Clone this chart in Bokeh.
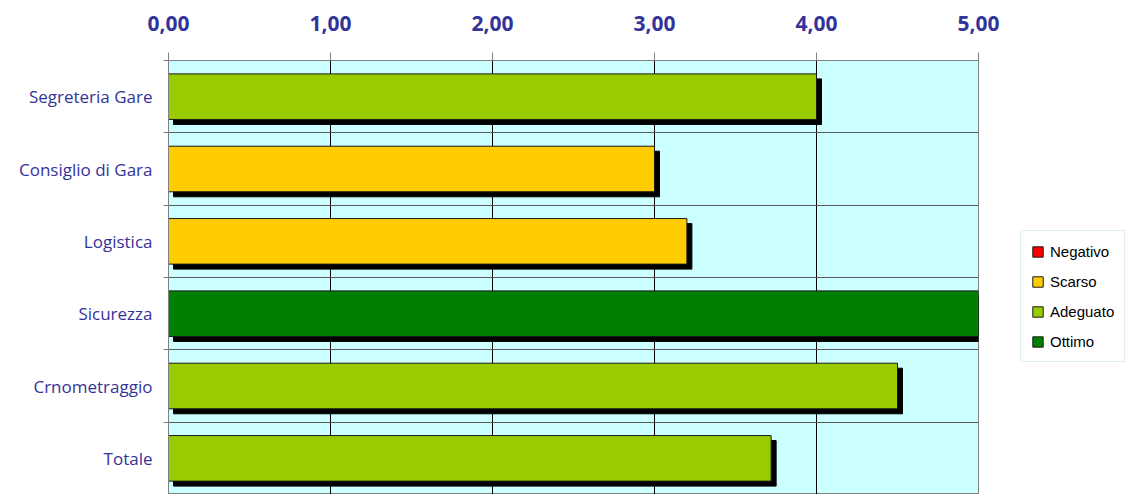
from bokeh.plotting import figure
from bokeh.models import Range1d, FixedTicker, Legend, LegendItem
from bokeh.embed import file_html
from bokeh.resources import INLINE

categories = ["Segreteria Gare", "Consiglio di Gara", "Logistica", "Sicurezza", "Crnometraggio", "Totale"]
values = [4.00, 3.00, 3.20, 5.00, 4.50, 3.72]
ratings = ["Adeguato", "Scarso", "Scarso", "Ottimo", "Adeguato", "Adeguato"]
legend_labels = ["Negativo", "Scarso", "Adeguato", "Ottimo"]
legend_colors = ["#FF0000", "#FFCC00", "#99CC00", "#008000"]
x_ticks = [0, 1, 2, 3, 4, 5]
x_tick_labels = ["0,00", "1,00", "2,00", "3,00", "4,00", "5,00"]

n = len(categories)
ypos = [n - i - 0.5 for i in range(n)]

FRAME_W, FRAME_H = 810, 434
y_start = 0.0
x_end = 5

p = figure(frame_width=FRAME_W, frame_height=FRAME_H, output_backend="svg", toolbar_location=None,
           x_range=Range1d(0, x_end), y_range=Range1d(y_start, n), x_axis_location="above",
           min_border_left=168, min_border_right=157, min_border_top=60, min_border_bottom=0)

p.background_fill_color = "#CCFFFF"
p.border_fill_color = "white"
p.outline_line_color = "#808080"

# shadow offsets (pixels -> data units)
dx = 5 * x_end / FRAME_W
dy = 5 * (n - y_start) / FRAME_H
bar_h = 0.63

p.hbar(y=[y - dy for y in ypos], left=dx, right=[v + dx for v in values], height=bar_h,
       fill_color="black", line_color="black")

# one renderer per rating class (also used by the legend)
items = []
for lab, col in zip(legend_labels, legend_colors):
    ys = [y for y, r in zip(ypos, ratings) if r == lab]
    vs = [v for v, r in zip(values, ratings) if r == lab]
    if not ys:  # class with no bars: placeholder that draws nothing
        ys, vs = [float("nan")], [float("nan")]
    rr = p.hbar(y=ys, left=0, right=vs, height=bar_h, fill_color=col,
                line_color="#1a1a1a", line_width=1)
    items.append(LegendItem(label=lab, renderers=[rr]))

# grids
p.xgrid.ticker = FixedTicker(ticks=[1, 2, 3, 4])
p.xgrid.grid_line_color = "#000000"
p.xgrid.grid_line_width = 1
p.ygrid.ticker = FixedTicker(ticks=list(range(n + 1)))
p.ygrid.grid_line_color = "#595959"
p.ygrid.grid_line_width = 1

# top axis
xa = p.xaxis[0]
xa.ticker = FixedTicker(ticks=x_ticks, minor_ticks=[])
xa.major_label_overrides = {t: l for t, l in zip(x_ticks, x_tick_labels)}
xa.major_label_text_font = "Open Sans"
xa.major_label_text_font_style = "bold"
xa.major_label_text_font_size = "21px"
xa.major_label_text_color = "#333399"
xa.major_tick_out = 8
xa.major_tick_in = 0
xa.major_tick_line_color = "#808080"
xa.axis_line_color = "#808080"
xa.major_label_standoff = 22

# left axis
ya = p.yaxis[0]
ya.ticker = FixedTicker(ticks=ypos, minor_ticks=list(range(n + 1)))
ya.major_label_overrides = {y: c for y, c in zip(ypos, categories)}
ya.major_label_text_font = "Open Sans"
ya.major_label_text_font_size = "17px"
ya.major_label_text_color = "#333399"
ya.major_tick_out = 0
ya.major_tick_in = 0
ya.minor_tick_out = 5
ya.minor_tick_in = 0
ya.minor_tick_line_color = "#808080"
ya.axis_line_color = "#808080"
ya.major_label_standoff = 11

legend = Legend(items=items, location=(42, 132), orientation="vertical",
                label_text_font="Liberation Sans", label_text_font_size="15px",
                label_text_color="black", label_height=20, label_standoff=6,
                glyph_width=13, glyph_height=13, spacing=10, padding=10, margin=0,
                border_line_color="#c0e8c0", border_line_width=1,
                background_fill_color="white", background_fill_alpha=1.0)
p.add_layout(legend, "right")

open("out.html", "w").write(file_html(p, INLINE))
